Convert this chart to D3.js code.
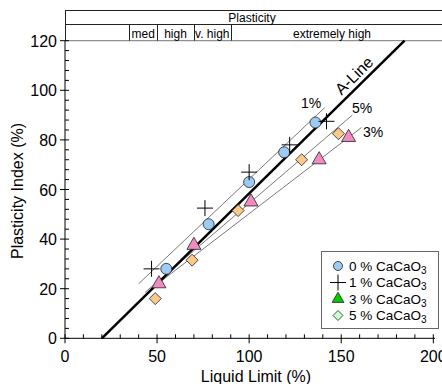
<!DOCTYPE html>
<html>
<head>
<meta charset="utf-8">
<script src="https://cdn.jsdelivr.net/npm/d3@7"></script>
<style>
  body { margin: 0; background: #fff; }
  svg text { font-family: "Liberation Sans", Arial, sans-serif; }
</style>
</head>
<body>
<div id="chart"></div>
<script>
// liquid limit / plasticity index
const ll0 = [55, 78, 100, 119, 136];
const pi0 = [28, 46, 63, 75, 87];
const ll1 = [47, 76, 100, 122, 142];
const pi1 = [28, 52.5, 67, 78, 87.5];
const ll3 = [51, 70, 101, 138, 154];
const pi3 = [22, 37.5, 55, 72, 81];
const ll5 = [49, 69, 94, 128.5, 148.5];
const pi5 = [16, 31.5, 51.5, 72, 82.5];

// thin trend lines [LL start, PI start, LL end, PI end]
const trend1 = [40, 22, 141, 93];
const trend5 = [43.5, 18.5, 156, 90];
const trend3 = [46, 19.5, 161, 85];
const trendLabels = ["1%", "5%", "3%"];

// plasticity classes (liquid limit boundaries)
const classBounds = [35, 50, 70, 90, 200];
const classNames = ["med", "high", "v. high", "extremely high"];

const xTicks = [0, 50, 100, 150, 200];
const yTicks = [0, 20, 40, 60, 80, 100, 120];

const legendNames = ["0 % CaCaO", "1 % CaCaO", "3 % CaCaO", "5 % CaCaO"];

const width = 442;
const height = 384;

const svg = d3
  .select("#chart")
  .append("svg")
  .attr("width", width)
  .attr("height", height);

const xScale = d3.scaleLinear().domain([0, 200]).range([65, 433.3]);
const yScale = d3.scaleLinear().domain([0, 120]).range([338.3, 40.7]);

// header box
const top1 = 10.5, top2 = 24.5, top3 = yScale(120);
svg.append("line").attr("x1", 65).attr("x2", width).attr("y1", top1).attr("y2", top1)
  .style("stroke", "#222").style("stroke-width", 1);
svg.append("line").attr("x1", 65).attr("x2", width).attr("y1", top2).attr("y2", top2)
  .style("stroke", "#222").style("stroke-width", 1);
svg.append("line").attr("x1", 65).attr("x2", width).attr("y1", top3).attr("y2", top3)
  .style("stroke", "#777").style("stroke-width", 1);
svg.append("line").attr("x1", 65.5).attr("x2", 65.5).attr("y1", top1).attr("y2", top3)
  .style("stroke", "#222");
svg.append("text")
  .attr("x", 252)
  .attr("y", 21.5)
  .attr("text-anchor", "middle")
  .style("font-size", "12px")
  .text("Plasticity");

classNames.forEach((name, i) => {
  const x0 = xScale(classBounds[i]);
  const x1 = Math.min(xScale(classBounds[i + 1]), width);
  svg.append("line").attr("x1", Math.round(x0) + 0.5).attr("x2", Math.round(x0) + 0.5)
    .attr("y1", top2).attr("y2", top3).style("stroke", "#222");
  svg.append("text")
    .attr("x", (x0 + x1) / 2)
    .attr("y", 37.5)
    .attr("text-anchor", "middle")
    .style("font-size", "12px")
    .text(name);
});

// axes
const axisG = svg.append("g");
axisG.append("line").attr("x1", 65).attr("x2", 65).attr("y1", top3).attr("y2", 338.3)
  .style("stroke", "#000");
axisG.append("line").attr("x1", 65).attr("x2", 435).attr("y1", 338.3).attr("y2", 338.3)
  .style("stroke", "#000");

d3.range(0, 201, 10).forEach((v) => {
  const major = v % 50 === 0;
  axisG.append("line")
    .attr("x1", xScale(v)).attr("x2", xScale(v))
    .attr("y1", 338.3 - 4).attr("y2", major ? 338.3 + 5 : 338.3)
    .style("stroke", "#000");
});
d3.range(0, 121, 4).forEach((v) => {
  const major = v % 20 === 0;
  axisG.append("line")
    .attr("x1", major ? 60 : 65).attr("x2", 69)
    .attr("y1", yScale(v)).attr("y2", yScale(v))
    .style("stroke", "#000");
});

axisG.selectAll(".xlab").data(xTicks).enter().append("text")
  .attr("x", (d) => xScale(d))
  .attr("y", 362)
  .attr("text-anchor", "middle")
  .style("font-size", "16px")
  .text((d) => d);

axisG.selectAll(".ylab").data(yTicks).enter().append("text")
  .attr("x", 57)
  .attr("y", (d) => yScale(d) + 6)
  .attr("text-anchor", "end")
  .style("font-size", "16px")
  .text((d) => d);

svg.append("text")
  .attr("x", 256)
  .attr("y", 382)
  .attr("text-anchor", "middle")
  .style("font-size", "16px")
  .text("Liquid Limit (%)");

svg.append("text")
  .attr("transform", "translate(23,191) rotate(-90)")
  .attr("text-anchor", "middle")
  .style("font-size", "16px")
  .text("Plasticity Index (%)");

// trend lines
[trend1, trend5, trend3].forEach((t) => {
  svg.append("line")
    .attr("x1", xScale(t[0])).attr("y1", yScale(t[1]))
    .attr("x2", xScale(t[2])).attr("y2", yScale(t[3]))
    .style("stroke", "#555")
    .style("stroke-width", 0.8);
});
const labelPos = [[311, 108], [362, 113], [373, 137]];
trendLabels.forEach((lab, i) => {
  svg.append("text")
    .attr("x", labelPos[i][0])
    .attr("y", labelPos[i][1])
    .attr("text-anchor", "middle")
    .style("font-size", "14px")
    .text(lab);
});

// A-Line: PI = 0.73 (LL - 20)
const aEnd = 20 + 120 / 0.73;
svg.append("line")
  .attr("x1", xScale(20)).attr("y1", yScale(0))
  .attr("x2", xScale(aEnd)).attr("y2", yScale(120))
  .style("stroke", "#000")
  .style("stroke-width", 2.5);
const aAngle = -Math.atan((yScale(0) - yScale(0.73)) / (xScale(1) - xScale(0))) * 180 / Math.PI;
svg.append("text")
  .attr("transform", `translate(${xScale(161)},${yScale(0.73 * 141)}) rotate(${aAngle})`)
  .attr("text-anchor", "middle")
  .attr("dy", -5)
  .style("font-size", "16px")
  .text("A-Line");

// markers
const triangle = d3.symbol().type(d3.symbolTriangle).size(85);
const diamond = "M0,-6L6,0L0,6L-6,0Z";

function drawCross(g, x, y) {
  g.append("path")
    .attr("d", `M${x - 8},${y}H${x + 8}M${x},${y - 8}V${y + 8}`)
    .style("stroke", "#000")
    .style("stroke-width", 1);
}

const marks = svg.append("g");
ll5.forEach((d, i) => {
  marks.append("path")
    .attr("d", diamond)
    .attr("transform", `translate(${xScale(d)},${yScale(pi5[i])})`)
    .attr("fill", "#fcc98c")
    .attr("stroke", "#222")
    .attr("stroke-width", 0.8);
});
ll3.forEach((d, i) => {
  marks.append("path")
    .attr("d", triangle)
    .attr("transform", `translate(${xScale(d)},${yScale(pi3[i])})`)
    .attr("fill", "#f28cc0")
    .attr("stroke", "#222")
    .attr("stroke-width", 0.8);
});
ll0.forEach((d, i) => {
  marks.append("circle")
    .attr("cx", xScale(d))
    .attr("cy", yScale(pi0[i]))
    .attr("r", 5.5)
    .attr("fill", "#9ccbf5")
    .attr("stroke", "#222")
    .attr("stroke-width", 0.8);
});
ll1.forEach((d, i) => {
  drawCross(marks, xScale(d), yScale(pi1[i]));
});

// legend
const lg = svg.append("g");
lg.append("rect")
  .attr("x", 321.5).attr("y", 251.5)
  .attr("width", 117).attr("height", 77)
  .attr("fill", "#fff")
  .attr("stroke", "#666");

const legY = [266, 282.5, 299, 315.5];
lg.append("circle").attr("cx", 338).attr("cy", legY[0]).attr("r", 4.5)
  .attr("fill", "#9ccbf5").attr("stroke", "#222").attr("stroke-width", 0.8);
drawCross(lg, 338, legY[1]);
lg.append("path").attr("d", d3.symbol().type(d3.symbolTriangle).size(60))
  .attr("transform", `translate(338,${legY[2]})`)
  .attr("fill", "#00cc00").attr("stroke", "#222").attr("stroke-width", 0.8);
lg.append("path").attr("d", "M0,-5L5,0L0,5L-5,0Z")
  .attr("transform", `translate(338,${legY[3]})`)
  .attr("fill", "#ccffcc").attr("stroke", "#222").attr("stroke-width", 0.8);

legendNames.forEach((name, i) => {
  const t = lg.append("text")
    .attr("x", 349)
    .attr("y", legY[i] + 4.5)
    .style("font-size", "13.5px")
    .text(name);
  t.append("tspan")
    .attr("dy", 3)
    .style("font-size", "10px")
    .text("3");
});
</script>
</body>
</html>
